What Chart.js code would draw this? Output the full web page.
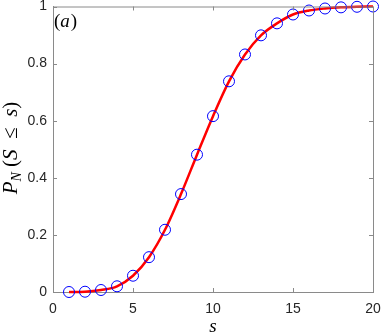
<!DOCTYPE html>
<html>
<head>
<meta charset="utf-8">
<script src="https://cdn.jsdelivr.net/npm/chart.js@4"></script>
<style>
  html, body { margin: 0; padding: 0; background: #fff; }
  #cdfChart { display: block; }
</style>
</head>
<body>
<canvas id="cdfChart" width="382" height="334"></canvas>
<script>
// values
const sValues = [1, 2, 3, 4, 5, 6, 7, 8, 9, 10, 11, 12, 13, 14, 15, 16, 17, 18, 19, 20];
const cdfValues = [0, 0.001, 0.007, 0.02, 0.057, 0.122, 0.218, 0.343, 0.481, 0.616, 0.738, 0.832, 0.899, 0.941, 0.972, 0.986, 0.993, 0.997, 0.999, 1.0];
const xTicks = [0, 5, 10, 15, 20];
const yTicks = [0, 0.2, 0.4, 0.6, 0.8, 1];

const points = sValues.map((s, i) => ({ x: s, y: cdfValues[i] }));

// box, inward ticks and the LaTeX-like labels
const matlabAxes = {
    id: 'matlabAxes',
    afterDraw(chart) {
        const { ctx, chartArea: a, scales } = chart;
        const tl = 4;
        ctx.save();
        ctx.strokeStyle = '#8a8a8a';
        ctx.lineWidth = 1;
        ctx.beginPath();
        ctx.moveTo(a.left, a.top + 0.5);
        ctx.lineTo(a.right + 0.5, a.top + 0.5);
        ctx.lineTo(a.right + 0.5, a.bottom);
        xTicks.forEach(v => {
            const px = Math.round(scales.x.getPixelForValue(v)) + 0.5;
            ctx.moveTo(px, a.bottom); ctx.lineTo(px, a.bottom - tl);
            ctx.moveTo(px, a.top); ctx.lineTo(px, a.top + tl);
        });
        yTicks.forEach(v => {
            const py = Math.round(scales.y.getPixelForValue(v)) + 0.5;
            ctx.moveTo(a.left, py); ctx.lineTo(a.left + tl, py);
            ctx.moveTo(a.right, py); ctx.lineTo(a.right - tl, py);
        });
        ctx.stroke();

        ctx.fillStyle = '#000';
        ctx.textBaseline = 'alphabetic';
        const serif = '"Liberation Serif", "DejaVu Serif", serif';

        // panel label (a)
        let x = a.left + 1;
        const yb = 27;
        ctx.font = '19px ' + serif;
        ctx.fillText('(', x, yb); x += ctx.measureText('(').width;
        ctx.font = 'italic 19px ' + serif;
        ctx.fillText('a', x, yb); x += ctx.measureText('a').width + 1;
        ctx.font = '19px ' + serif;
        ctx.fillText(')', x, yb);

        // x label
        ctx.font = 'italic 19px ' + serif;
        ctx.textAlign = 'center';
        ctx.fillText('s', (a.left + a.right) / 2, 332);
        ctx.textAlign = 'left';

        // y label P_N(S <= s), rotated
        const parts = [
            ['italic 21px ' + serif, 'P', 0],
            ['italic 14px ' + serif, 'N', 4],
            ['21px ' + serif, ' (', 0],
            ['italic 21px ' + serif, 'S', 0],
            ['21px ' + serif, '  \u2264  ', 0],
            ['italic 21px ' + serif, 's', 0],
            ['21px ' + serif, ')', 0]
        ];
        let total = 0;
        parts.forEach(p => { ctx.font = p[0]; total += ctx.measureText(p[1]).width; });
        ctx.translate(17, 148);
        ctx.rotate(-Math.PI / 2);
        let cx = -total / 2;
        parts.forEach(p => {
            ctx.font = p[0];
            ctx.fillText(p[1], cx, p[2]);
            cx += ctx.measureText(p[1]).width;
        });
        ctx.restore();
    }
};

new Chart(document.getElementById('cdfChart'), {
    type: 'line',
    data: {
        datasets: [
            {
                label: 'fit',
                data: points,
                borderColor: '#ff0000',
                borderWidth: 2.5,
                pointRadius: 0,
                cubicInterpolationMode: 'monotone',
                fill: false,
                clip: false,
                order: 2
            },
            {
                label: 'data',
                data: points,
                showLine: false,
                pointStyle: 'circle',
                pointRadius: 5.5,
                pointBorderWidth: 1,
                pointBorderColor: '#0000ff',
                pointBackgroundColor: 'rgba(0,0,0,0)',
                clip: false,
                order: 1
            }
        ]
    },
    options: {
        responsive: false,
        animation: false,
        devicePixelRatio: 1,
        layout: { padding: { top: 6, right: 9, left: 0, bottom: 0 } },
        plugins: {
            legend: { display: false },
            tooltip: { enabled: false }
        },
        scales: {
            x: {
                type: 'linear',
                min: 0,
                max: 20,
                afterFit: scale => {
                    scale.height = 42;
                    scale.paddingLeft = 0;
                    scale.paddingRight = 0;
                },
                afterBuildTicks: scale => { scale.ticks = xTicks.map(v => ({ value: v })); },
                ticks: {
                    color: '#262626',
                    font: { family: '"Liberation Sans", Arial, sans-serif', size: 14 },
                    padding: 9,
                    maxRotation: 0
                },
                grid: { drawOnChartArea: false, drawTicks: false },
                border: { color: '#8a8a8a', width: 1 }
            },
            y: {
                min: 0,
                max: 1,
                afterFit: scale => {
                    scale.width = 53;
                    scale.paddingTop = 0;
                    scale.paddingBottom = 0;
                },
                afterBuildTicks: scale => { scale.ticks = yTicks.map(v => ({ value: v })); },
                ticks: {
                    color: '#262626',
                    font: { family: '"Liberation Sans", Arial, sans-serif', size: 14 },
                    padding: 6,
                    callback: v => String(v)
                },
                grid: { drawOnChartArea: false, drawTicks: false },
                border: { color: '#8a8a8a', width: 1 }
            }
        }
    },
    plugins: [matlabAxes]
});
</script>
</body>
</html>
